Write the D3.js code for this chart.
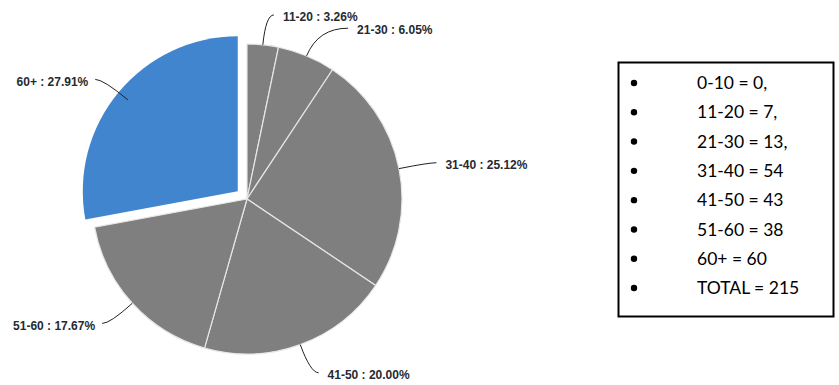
<html lang="en">
<head>
    <title>Age groups pie</title>
    <script src="https://d3js.org/d3.v7.min.js"></script>
    <style>
        body {
            margin: 0;
            background: #fff;
        }
        .slice-label {
            font-family: "Liberation Sans", Arial, sans-serif;
            font-weight: bold;
            font-size: 12px;
            fill: #262a30;
        }
        .legend-text {
            font-family: Lato, "Open Sans", sans-serif;
            font-size: 17.5px;
            fill: #000;
        }
    </style>
</head>
<body>
<script>
    // age groups and how many people in each
    var categories = ["0-10", "11-20", "21-30", "31-40", "41-50", "51-60", "60+"];
    var counts = [0, 7, 13, 54, 43, 38, 60];
    // text shown in the box on the right
    var legendLines = ["0-10 = 0,", "11-20 = 7,", "21-30 = 13,", "31-40 = 54", "41-50 = 43", "51-60 = 38", "60+ = 60", "TOTAL = 215"];
    var highlighted = "60+";

    var width = 839;
    var height = 385;
    var cx = 247, cy = 199, radius = 155;
    var explode = 12;

    var svg = d3.select("body")
        .append("svg")
        .attr("width", width)
        .attr("height", height);

    var total = d3.sum(counts);
    var rows = categories.map(function(c, i) { return {cat: c, value: counts[i]}; });

    var pie = d3.pie()
        .sort(null)
        .value(function(d) { return d.value; });
    var arcs = pie(rows).filter(function(d) { return d.value > 0; });

    var arc = d3.arc().innerRadius(0).outerRadius(radius);

    function mid(d) { return (d.startAngle + d.endAngle) / 2; }
    function offsetOf(d) {
        if (d.data.cat !== highlighted) return [0, 0];
        var a = mid(d);
        return [Math.sin(a) * explode, -Math.cos(a) * explode];
    }
    function polar(a, r, off) {
        return [cx + off[0] + Math.sin(a) * r, cy + off[1] - Math.cos(a) * r];
    }

    var g = svg.append("g");

    g.selectAll("path.slice")
        .data(arcs)
        .enter()
        .append("path")
        .attr("class", "slice")
        .attr("transform", function(d) {
            var o = offsetOf(d);
            return "translate(" + (cx + o[0]) + "," + (cy + o[1]) + ")";
        })
        .attr("d", arc)
        .attr("fill", function(d) { return d.data.cat === highlighted ? "#4285cf" : "#7f7f7f"; })
        .attr("stroke", function(d) { return d.data.cat === highlighted ? "none" : "#e6e6e6"; })
        .attr("stroke-width", 1.2);

    // leader lines, google-charts style
    var extraTail = {"21-30": 22};
    var labels = arcs.map(function(d) {
        var a = mid(d);
        var o = offsetOf(d);
        var isHi = d.data.cat === highlighted;
        var start = polar(a, isHi ? 143 : radius, o);
        var ctrl = polar(a, isHi ? 175 : 185, o);
        var right = Math.sin(a) >= 0;
        var tail = 8 + (extraTail[d.data.cat] || 0);
        var end = [ctrl[0] + (right ? tail : -tail), ctrl[1]];
        return {d: d, start: start, ctrl: ctrl, end: end, right: right};
    });

    g.selectAll("path.leader")
        .data(labels)
        .enter()
        .append("path")
        .attr("class", "leader")
        .attr("d", function(l) {
            return "M" + l.start + "Q" + l.ctrl + " " + l.end;
        })
        .attr("fill", "none")
        .attr("stroke", "#222")
        .attr("stroke-width", 1);

    g.selectAll("text.slice-label")
        .data(labels)
        .enter()
        .append("text")
        .attr("class", "slice-label")
        .attr("x", function(l) { return l.end[0] + (l.right ? 9 : -7); })
        .attr("y", function(l) { return l.end[1] + 2; })
        .attr("dy", "0.35em")
        .attr("text-anchor", function(l) { return l.right ? "start" : "end"; })
        .text(function(l) {
            return l.d.data.cat + " : " + (l.d.value / total * 100).toFixed(2) + "%";
        });

    // the box on the right
    var box = svg.append("g");
    box.append("rect")
        .attr("x", 618.5)
        .attr("y", 62.5)
        .attr("width", 215)
        .attr("height", 254)
        .attr("fill", "#fff")
        .attr("stroke", "#000")
        .attr("stroke-width", 2);

    var ly = d3.scalePoint()
        .domain(d3.range(legendLines.length))
        .range([83, 288]);

    var items = box.selectAll("g.item")
        .data(legendLines)
        .enter()
        .append("g")
        .attr("class", "item")
        .attr("transform", function(t, i) { return "translate(0," + ly(i) + ")"; });

    items.append("circle")
        .attr("cx", 634)
        .attr("cy", 0)
        .attr("r", 3.2)
        .attr("fill", "#000");

    items.append("text")
        .attr("class", "legend-text")
        .attr("x", 697)
        .attr("dy", "0.35em")
        .text(function(t) { return t; });
</script>
</body>
</html>
